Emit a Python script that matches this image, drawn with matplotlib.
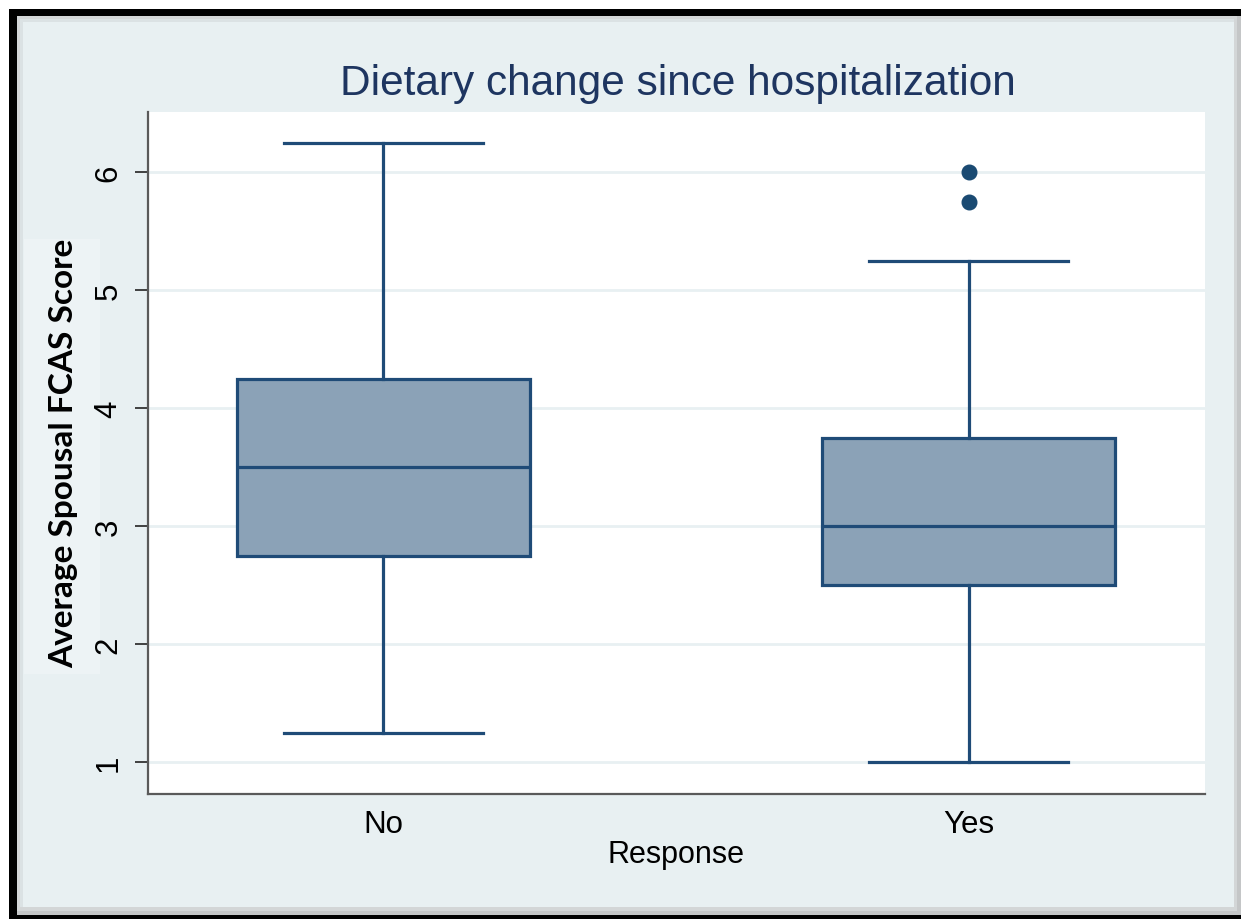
import matplotlib
matplotlib.use("Agg")
import matplotlib.pyplot as plt
from matplotlib.patches import Rectangle

# data
groups = ["No", "Yes"]
whisker_lo = [1.25, 1.0]
q1 = [2.75, 2.5]
medians = [3.5, 3.0]
q3 = [4.25, 3.75]
whisker_hi = [6.25, 5.25]
outliers = [[], [5.75, 6.0]]
yticks = [1, 2, 3, 4, 5, 6]

W, H = 1241, 920
fig = plt.figure(figsize=(W / 100, H / 100), dpi=100, facecolor="white")

def px_rect(x0, y0, x1, y1, color, z=0):
    # rectangle given in image pixels (top-left origin)
    fig.patches.append(Rectangle((x0 / W, 1 - y1 / H), (x1 - x0) / W, (y1 - y0) / H,
                                 transform=fig.transFigure, color=color, zorder=z, lw=0))

# frame: black border, grey shadow, light background
px_rect(9, 10, W, H, "black")
px_rect(17, 17, W, 916, "#c4c6c7", 1)
px_rect(17, 17, 1237, 912, "#d3d6d7", 1)
px_rect(20, 20, 1234, 908, "#dbe2e4", 1)
px_rect(23, 23, 1234, 908, "#e8f0f2", 1)
# lighter patch behind y label
px_rect(24, 240, 100, 675, "#edf3f5", 2)

bg = "#e8f0f2"
edge = "#1f4b77"
fill = "#8ba2b7"
ax = fig.add_axes([148 / W, 1 - 795 / H, (1205 - 148) / W, (795 - 113) / H])
ax.set_facecolor("white")
ax.set_zorder(3)

stats = []
for i, g in enumerate(groups):
    stats.append(dict(label=g, whislo=whisker_lo[i], q1=q1[i], med=medians[i],
                      q3=q3[i], whishi=whisker_hi[i], fliers=outliers[i]))

ax.bxp(stats, positions=[1, 2], widths=0.5, capwidths=0.34, patch_artist=True,
       boxprops=dict(facecolor=fill, edgecolor=edge, linewidth=2.3),
       medianprops=dict(color=edge, linewidth=2.3),
       whiskerprops=dict(color=edge, linewidth=2.3),
       capprops=dict(color=edge, linewidth=2.3),
       flierprops=dict(marker="o", markerfacecolor="#1a4a72", markeredgecolor="#1a4a72",
                       markersize=10.5))

ax.set_xlim(0.598, 2.404)
ax.set_ylim(0.73, 6.51)
ax.set_yticks(yticks)
ax.set_yticklabels([str(t) for t in yticks], rotation=90, va="center")
ax.yaxis.grid(True, color=bg, linewidth=2)
ax.set_axisbelow(True)

for s in ["top", "right"]:
    ax.spines[s].set_visible(False)
for s in ["left", "bottom"]:
    ax.spines[s].set_color("#5a5a5a")
    ax.spines[s].set_linewidth(1.6)

ax.tick_params(axis="y", length=9.5, width=1.3, color="#333333", pad=8,
               labelsize=22.5, labelfontfamily="Liberation Sans")
ax.tick_params(axis="x", length=0, pad=11, labelsize=22.5, labelfontfamily="Liberation Sans")

ax.set_xlabel("Response", fontsize=22, family="Liberation Sans", labelpad=0)

fig.text(64 / W, 1 - 453 / H, "Average Spousal FCAS Score", rotation=90, ha="center",
         va="center", fontsize=24, fontweight="bold", family="Lato", zorder=5)
fig.text(678 / W, 1 - 84 / H, "Dietary change since hospitalization", ha="center",
         va="center", fontsize=30.5, color="#1e3560", family="Liberation Sans", zorder=5)

fig.savefig("out.png", dpi=100, facecolor="white")
